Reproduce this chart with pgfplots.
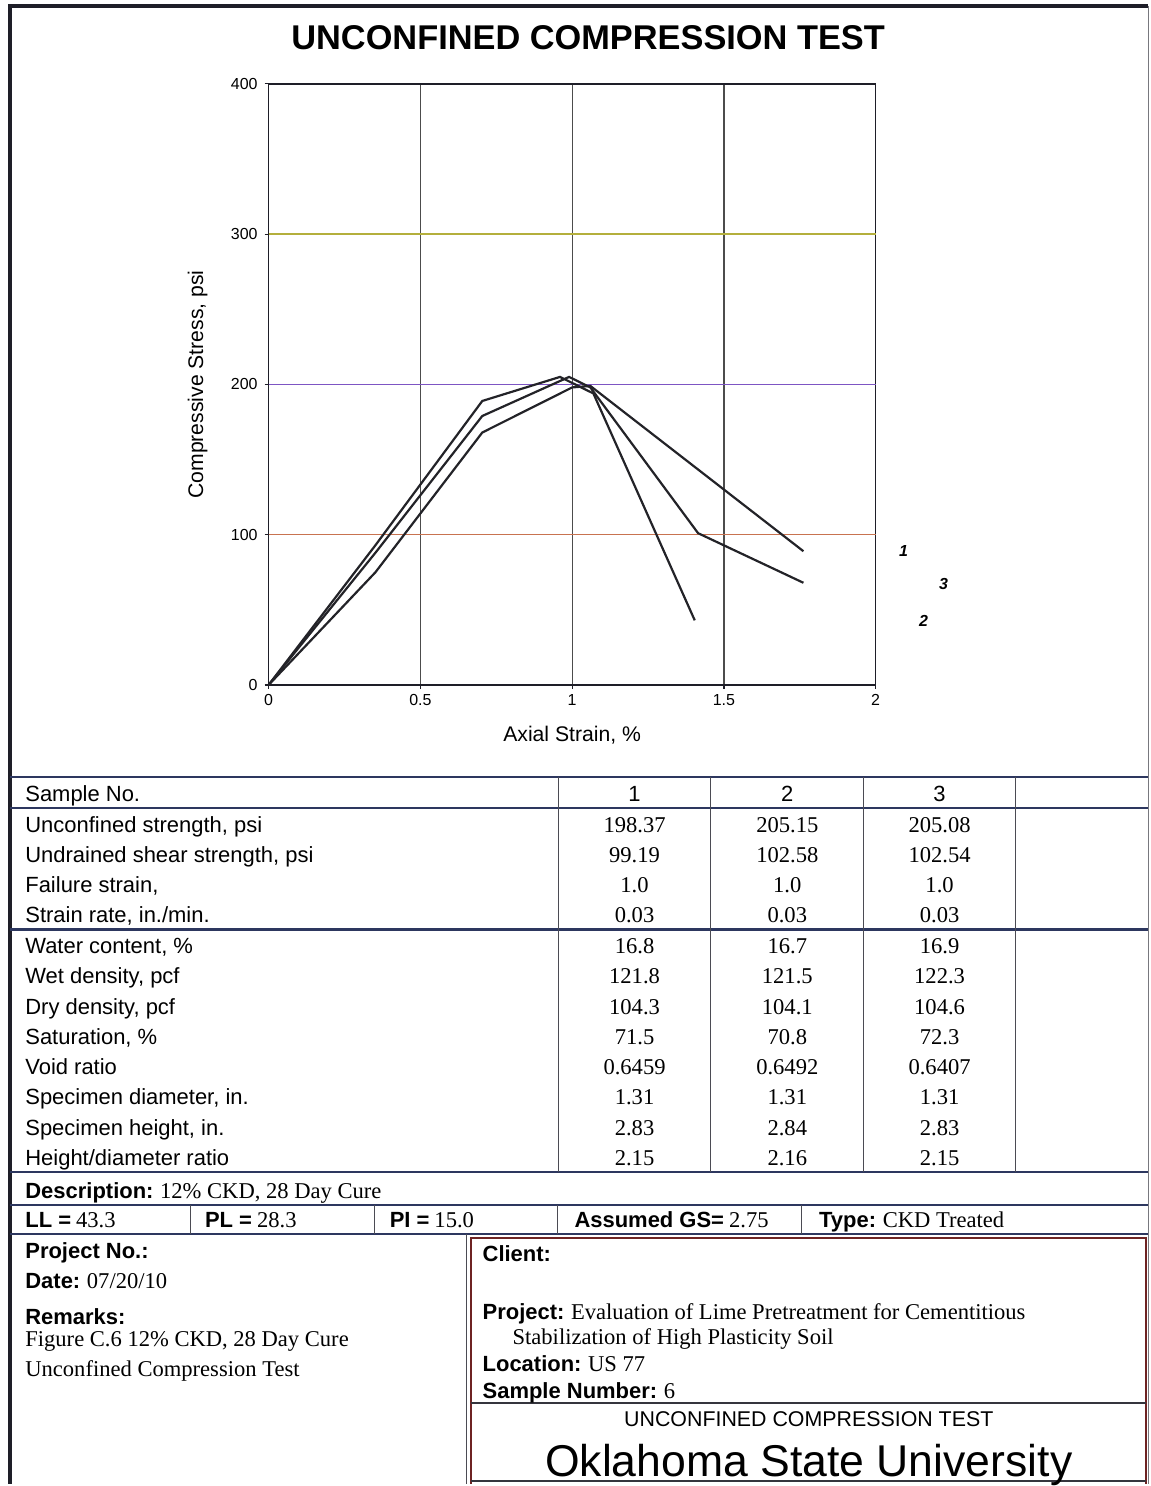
\documentclass[border=0pt]{standalone}
\usepackage{pgfplots}
\pgfplotsset{compat=1.18}
\usepackage{fontspec}
\setmainfont{Liberation Serif}
\setsansfont{Liberation Sans}
\definecolor{gridA}{RGB}{200,115,80}
\definecolor{gridB}{RGB}{125,85,195}
\definecolor{gridC}{RGB}{180,175,60}
\definecolor{frm}{RGB}{30,30,40}
\definecolor{tline}{RGB}{45,55,95}
\definecolor{boxred}{RGB}{110,35,35}
\definecolor{curve}{RGB}{35,35,40}
\newcommand{\lab}{\sffamily\fontsize{11}{13}\selectfont}
\newcommand{\blab}{\sffamily\bfseries\fontsize{11}{13}\selectfont}
\newcommand{\val}{\rmfamily\fontsize{11.3}{13}\selectfont}

\begin{document}
\begin{tikzpicture}
\begin{scope}[x=0.5pt,y=-0.5pt]
\path[use as bounding box] (0,0) rectangle (1152,1486);
\end{scope}

\begin{axis}[
  at={(134.5pt,-343pt)}, anchor=south west,
  scale only axis, width=304pt, height=301pt,
  xmin=0, xmax=2, ymin=0, ymax=400,
  xtick={0,0.5,1,1.5,2}, ytick={0,100,200,300,400},
  xmajorgrids, major grid style={draw=black!70, line width=0.6pt},
  axis line style={draw=frm, line width=0.8pt},
  tick align=outside, major tick length=2pt,
  tick style={draw=frm, line width=0.6pt},
  xtick pos=bottom, ytick pos=left,
  ticklabel style={font=\sffamily\fontsize{8}{9}\selectfont},
  /pgf/number format/assume math mode=true,
  xticklabel style={yshift=1pt},
  xlabel={Axial Strain, \%},
  ylabel={Compressive Stress, psi},
  every axis x label/.style={at={(axis description cs:0.5,-0.083)}, anchor=center,
     font=\sffamily\fontsize{10.6}{12}\selectfont},
  every axis y label/.style={at={(axis description cs:-0.117,0.5)}, anchor=center, rotate=90,
     font=\sffamily\fontsize{10.6}{12}\selectfont},
  clip=false,
]
\draw[gridA, line width=0.7pt] (axis cs:0,100) -- (axis cs:2,100);
\draw[gridB, line width=0.7pt] (axis cs:0,200) -- (axis cs:2,200);
\draw[gridC, line width=0.7pt] (axis cs:0,300) -- (axis cs:2,300);
% Sample 1
\addplot[curve, line width=1.1pt, no marks] coordinates {
 (0,0) (0.352,75) (0.704,168) (1.0,198) (1.06,199) (1.762,89)};
% Sample 2
\addplot[curve, line width=1.1pt, no marks] coordinates {
 (0,0) (0.352,93) (0.704,189) (0.96,205) (1.07,194) (1.404,43)};
% Sample 3
\addplot[curve, line width=1.1pt, no marks] coordinates {
 (0,0) (0.352,88) (0.704,179) (0.99,205) (1.06,198) (1.415,101) (1.762,68)};
\node[font=\sffamily\bfseries\itshape\fontsize{8}{9}\selectfont] at (axis cs:2.092,89) {1};
\node[font=\sffamily\bfseries\itshape\fontsize{8}{9}\selectfont] at (axis cs:2.158,42.5) {2};
\node[font=\sffamily\bfseries\itshape\fontsize{8}{9}\selectfont] at (axis cs:2.224,67) {3};
\end{axis}

\begin{scope}[x=0.5pt,y=-0.5pt]
% frame
\draw[frm, line width=1.6pt] (10,1486) -- (10,6) -- (1150,6);
\draw[frm!60, line width=0.5pt] (1150,6) -- (1150,1486);
% title
\node[font=\sffamily\bfseries\fontsize{17.2}{20}\selectfont] at (589,38) {UNCONFINED COMPRESSION TEST};

% table lines
\draw[tline, line width=1pt] (10,778) -- (1150,778);
\draw[tline, line width=1pt] (10,809) -- (1150,809);
\draw[tline, line width=1.2pt] (10,931) -- (1150,931);
\draw[tline, line width=1.2pt] (10,1174) -- (1150,1174);
\draw[tline, line width=1pt] (10,1207) -- (1150,1207);
\draw[tline, line width=1.2pt] (10,1236) -- (1150,1236);
\foreach \x in {559,712,865,1017} \draw[frm!80, line width=0.5pt] (\x,778) -- (\x,1174);
\foreach \x in {191,375,558,803} \draw[frm!80, line width=0.6pt] (\x,1207) -- (\x,1236);
\draw[frm!80, line width=0.6pt] (467,1236) -- (467,1486);
\draw[boxred, line width=0.8pt] (472,1486) -- (472,1240) -- (1148,1240) -- (1148,1486);
\draw[frm!90, line width=0.8pt] (472,1405) -- (1148,1405);
\draw[frm!90, line width=0.8pt] (472,1483) -- (1148,1483);

\tikzset{lb/.style={anchor=base west, inner sep=0}, vb/.style={anchor=base, inner sep=0}}
% header
\node[font=\lab, lb] at (25,803) {Sample No.};
\node[font=\lab, vb] at (635.5,803) {1};
\node[font=\lab, vb] at (788.5,803) {2};
\node[font=\lab, vb] at (941,803) {3};

\foreach \y/\l/\a/\b/\c in {
 834/{Unconfined strength, psi}/198.37/205.15/205.08,
 864/{Undrained shear strength, psi}/99.19/102.58/102.54,
 894/{Failure strain,}/1.0/1.0/1.0,
 924/{Strain rate, in./min.}/0.03/0.03/0.03,
 955/{Water content, \%}/16.8/16.7/16.9,
 985/{Wet density, pcf}/121.8/121.5/122.3,
 1016/{Dry density, pcf}/104.3/104.1/104.6,
 1046/{Saturation, \%}/71.5/70.8/72.3,
 1076/{Void ratio}/0.6459/0.6492/0.6407,
 1106/{Specimen diameter, in.}/1.31/1.31/1.31,
 1137/{Specimen height, in.}/2.83/2.84/2.83,
 1167/{Height/diameter ratio}/2.15/2.16/2.15}{
  \node[font=\lab, lb] at (25,\y) {\l};
  \node[font=\val, vb] at (635.5,\y) {\a};
  \node[font=\val, vb] at (788.5,\y) {\b};
  \node[font=\val, vb] at (941,\y) {\c};
}

\node[lb] at (25,1200) {{\blab Description:} {\val 12\% CKD, 28 Day Cure}};
\node[lb] at (25,1229) {{\blab LL =} {\val 43.3}};
\node[lb] at (205,1229) {{\blab PL =} {\val 28.3}};
\node[lb] at (390,1229) {{\blab PI =} {\val 15.0}};
\node[lb] at (575,1229) {{\blab Assumed GS=} {\val 2.75}};
\node[lb] at (820,1229) {{\blab Type:} {\val CKD Treated}};

\node[lb] at (25,1260) {\blab Project No.:};
\node[lb] at (25,1290) {{\blab Date:} {\val 07/20/10}};
\node[lb] at (25,1326) {\blab Remarks:};
\node[lb] at (25,1349) {\val Figure C.6 12\% CKD, 28 Day Cure};
\node[lb] at (25,1379) {\val Unconfined Compression Test};

\node[lb] at (483,1263) {\blab Client:};
\node[lb] at (483,1321) {{\blab Project:} {\val Evaluation of Lime Pretreatment for Cementitious}};
\node[lb] at (513,1347) {\val Stabilization of High Plasticity Soil};
\node[lb] at (483,1374) {{\blab Location:} {\val US 77}};
\node[lb] at (483,1401) {{\blab Sample Number:} {\val 6}};
\node[font=\sffamily\fontsize{10.7}{12}\selectfont, vb] at (810,1429) {UNCONFINED COMPRESSION TEST};
\node[font=\sffamily\fontsize{22.3}{26}\selectfont, vb] at (810,1479) {Oklahoma State University};
\end{scope}
\end{tikzpicture}
\end{document}
